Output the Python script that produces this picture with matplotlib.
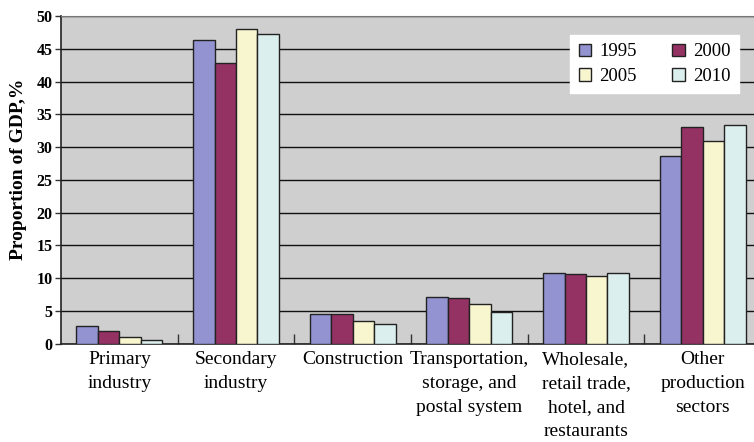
import numpy as np
import matplotlib.pyplot as plt
from matplotlib.patches import Patch

plt.rcParams['font.family'] = ['Liberation Serif', 'DejaVu Serif']

sectors = ['Primary\nindustry', 'Secondary\nindustry', 'Construction',
           'Transportation,\nstorage, and\npostal system',
           'Wholesale,\nretail trade,\nhotel, and\nrestaurants',
           'Other\nproduction\nsectors']
years = ['1995', '2000', '2005', '2010']
share_1995 = [2.7, 46.3, 4.5, 7.1, 10.8, 28.7]
share_2000 = [1.9, 42.8, 4.5, 6.9, 10.6, 33.0]
share_2005 = [1.0, 48.0, 3.4, 6.1, 10.3, 31.0]
share_2010 = [0.6, 47.3, 3.0, 4.8, 10.8, 33.4]
colors = ['#9393d1', '#953264', '#f8f6cf', '#dbf0ee']

fig = plt.figure(figsize=(7.54, 4.42), dpi=100)
ax = fig.add_axes([61 / 754, 0.2224, 700 / 754, 0.7414])
ax.set_facecolor('#cfcfcf')

x = np.arange(len(sectors))
w = 0.184
series = [share_1995, share_2000, share_2005, share_2010]
for i, vals in enumerate(series):
    ax.bar(x + (i - 1.5) * w, vals, w, color=colors[i], edgecolor='#222222',
           linewidth=1.0, zorder=3)

ax.set_xlim(-0.5, 5.5)
ax.set_ylim(0, 50)
ax.set_yticks(range(0, 51, 5))
ax.yaxis.grid(True, color='#111111', linewidth=1.0, zorder=0)
ax.set_axisbelow(True)

ax.set_xticks(x)
ax.set_xticklabels(sectors, fontsize=14, linespacing=1.55)
ax.tick_params(axis='x', length=0, pad=5)
ax.set_xticks(x[:-1] + 0.5, minor=True)
ax.tick_params(axis='x', which='minor', direction='in', length=7, width=1,
               color='#333333')
ax.tick_params(axis='y', length=4, width=1, color='#333333', pad=2)
for lab in ax.get_yticklabels():
    lab.set_fontweight('bold')
    lab.set_fontsize(11.5)

for side in ['left', 'bottom']:
    ax.spines[side].set_color('#222222')
    ax.spines[side].set_linewidth(1.2)
ax.spines['top'].set_color('#777777')
ax.spines['right'].set_visible(False)

fig.text(19 / 754, 0.618, 'Proportion of GDP,%', rotation=90, ha='center',
         va='center', fontsize=14, fontweight='bold')

# legend laid out column-first, so reorder to read 1995 2000 / 2005 2010
handles = [Patch(facecolor=colors[i], edgecolor='#222222', label=years[i])
           for i in range(4)]
order = [0, 2, 1, 3]
leg = ax.legend([handles[i] for i in order], [years[i] for i in order],
                ncol=2, loc='upper right', bbox_to_anchor=((739 - 61) / 700, 0.942),
                borderaxespad=0, fontsize=13.5, frameon=True, fancybox=False,
                framealpha=1, edgecolor='white', handlelength=0.65,
                handleheight=0.65, handletextpad=0.45, columnspacing=1.9,
                labelspacing=0.4, borderpad=0.45)
leg.set_zorder(5)

plt.savefig('out.png', dpi=100)
